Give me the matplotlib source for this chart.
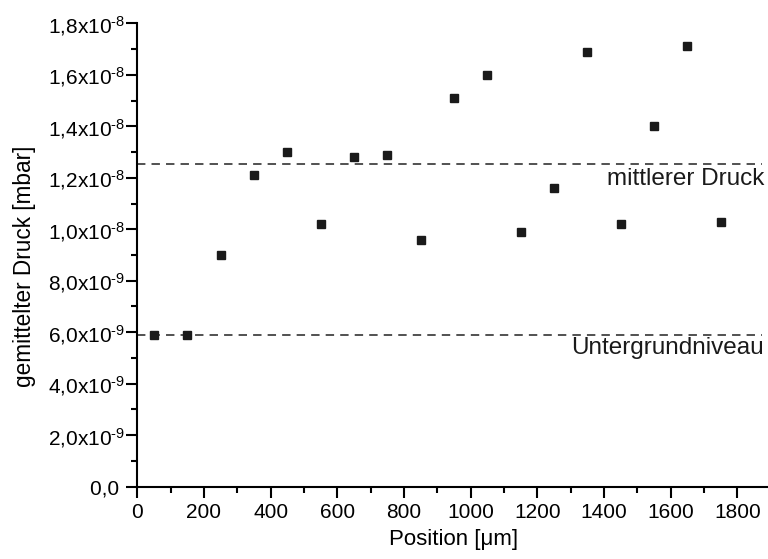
import matplotlib
matplotlib.use("Agg")
import matplotlib.pyplot as plt
from matplotlib.ticker import MultipleLocator, FixedLocator, FuncFormatter

plt.rcParams['font.family'] = ['Liberation Sans', 'DejaVu Sans']
plt.rcParams['mathtext.fontset'] = 'custom'
plt.rcParams['mathtext.rm'] = 'Liberation Sans'
plt.rcParams['mathtext.it'] = 'Liberation Sans:italic'
plt.rcParams['mathtext.bf'] = 'Liberation Sans:bold'
plt.rcParams['mathtext.default'] = 'regular'

# Measurement positions and averaged pressure
position_um = [50, 150, 250, 350, 450, 550, 650, 750, 850,
               950, 1050, 1150, 1250, 1350, 1450, 1550, 1650, 1750]
pressure_mbar = [5.9e-9, 5.9e-9, 9.0e-9, 1.21e-8, 1.30e-8, 1.02e-8, 1.28e-8, 1.29e-8, 9.6e-9,
                 1.51e-8, 1.60e-8, 9.9e-9, 1.16e-8, 1.69e-8, 1.02e-8, 1.40e-8, 1.71e-8, 1.03e-8]

mean_pressure = 1.255e-8
background_level = 5.9e-9
ref_line_end = 1874

y_ticks = [0, 2e-9, 4e-9, 6e-9, 8e-9, 1.0e-8, 1.2e-8, 1.4e-8, 1.6e-8, 1.8e-8]
x_ticks = [0, 200, 400, 600, 800, 1000, 1200, 1400, 1600, 1800]

fig = plt.figure(figsize=(7.68, 5.59), dpi=100)
ax = fig.add_axes([137.3 / 768, 1 - 486.7 / 559, 1 - 137.3 / 768, (486.7 - 23.3) / 559])

ink = '#1a1a1a'
ax.plot(position_um, pressure_mbar, linestyle='none', marker='s', markersize=6.0,
        color=ink, markeredgecolor=ink, zorder=3)

for level in (mean_pressure, background_level):
    ax.plot([0, ref_line_end], [level, level], color='#222222', lw=1.1,
            linestyle=(0, (5.5, 4)), zorder=2)

ax.text(1880, 1.172e-8, 'mittlerer Druck', ha='right', va='baseline',
        fontsize=17.5, color='#1a1a1a')
ax.text(1878, 5.15e-9, 'Untergrundniveau', ha='right', va='baseline',
        fontsize=17.5, color='#1a1a1a')

ax.set_xlim(0, 1892)
ax.set_ylim(0, 1.8e-8)

for side in ('top', 'right'):
    ax.spines[side].set_visible(False)
for side in ('left', 'bottom'):
    ax.spines[side].set_linewidth(1.5)

ax.xaxis.set_major_locator(FixedLocator(x_ticks))
ax.xaxis.set_minor_locator(MultipleLocator(100))
ax.yaxis.set_major_locator(FixedLocator(y_ticks))
ax.yaxis.set_minor_locator(MultipleLocator(1e-9))


def fmt_pressure(v, pos):
    if v == 0:
        return '0,0 '
    exp = 0
    m = v
    while m >= 10:
        m /= 10
        exp += 1
    while m < 1:
        m *= 10
        exp -= 1
    mant = f'{m:.1f}'.replace('.', '{,}')
    return rf'${mant}x10^{{\text{{-{abs(exp)}}}}}$'


ax.yaxis.set_major_formatter(FuncFormatter(fmt_pressure))
ax.xaxis.set_major_formatter(FuncFormatter(lambda v, p: f'{int(v)}'))

ax.tick_params(which='major', direction='out', length=8, width=1.5, labelsize=15,
               colors='black')
ax.tick_params(which='minor', direction='out', length=4.5, width=1.5)
ax.tick_params(axis='y', which='major', pad=1)
ax.tick_params(axis='x', which='major', pad=4)

fig.text(25 / 768, 1 - 266 / 559, 'gemittelter Druck [mbar]', rotation=90,
         ha='center', va='center', fontsize=16.3)
fig.text(454 / 768, 1 - 540 / 559, 'Position [\u03bcm]', ha='center', va='center',
         fontsize=16)

fig.savefig('out.png', dpi=100)
